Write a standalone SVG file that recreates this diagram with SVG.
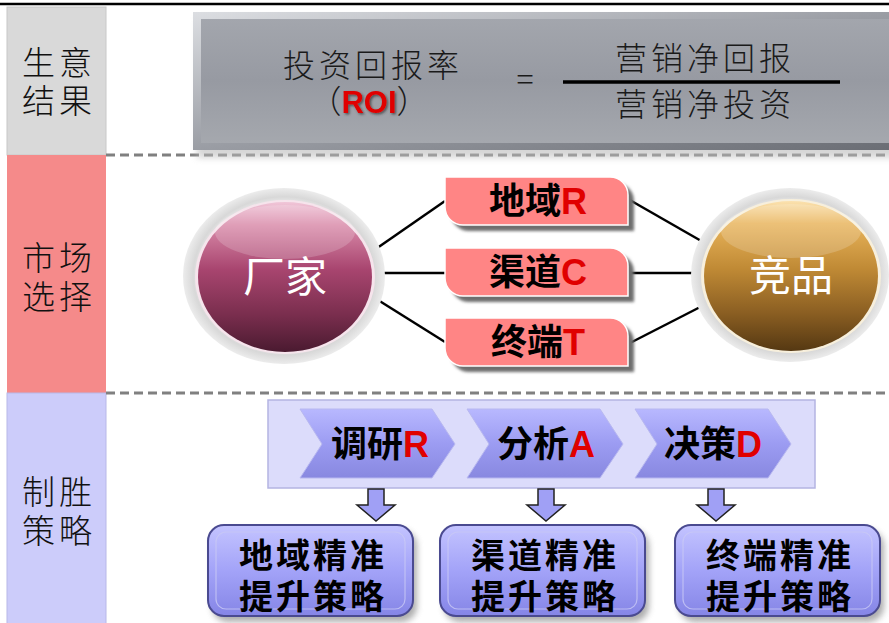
<svg xmlns="http://www.w3.org/2000/svg" width="889" height="623" viewBox="0 0 889 623">
<defs>
<style>
.side{font-family:"Liberation Serif","Noto Sans CJK SC",serif;font-size:33px;fill:#111;font-weight:300}
.formula{font-family:"Noto Sans CJK SC",sans-serif;font-size:32px;fill:#1a1a1a;font-weight:300}
.bold{font-family:"Noto Sans CJK SC",sans-serif;font-weight:bold;fill:#000}
.red{fill:#e00000;font-family:"Liberation Sans","Noto Sans CJK SC",sans-serif;font-weight:bold}
.dash{stroke:#808080;stroke-width:3;stroke-dasharray:9 5;fill:none}
.conn{stroke:#000;stroke-width:2.5;fill:none}
.pink{fill:#ff8585;stroke:#fff;stroke-width:1.5}
.pshadow{fill:#6e6e6e;filter:url(#blur)}
.chev{fill:url(#chevG);stroke:#b8b8f0;stroke-width:1}
.darrow{fill:#a0a0f5;stroke:#222;stroke-width:1.5}
.bbox{fill:url(#boxG);stroke:#4a4a90;stroke-width:2}
.bin{fill:none;stroke:#c8c8f5;stroke-width:1.2;opacity:0.8}
.wtext{font-family:"Noto Sans CJK SC",sans-serif;fill:#fff;font-size:42px}
.btxt{font-family:"Noto Sans CJK SC",sans-serif;font-weight:bold;fill:#000;font-size:34px;letter-spacing:3px}
</style>
<filter id="blur" x="-10%" y="-10%" width="130%" height="140%"><feGaussianBlur stdDeviation="1.5"/></filter>
<filter id="soft" x="-10%" y="-10%" width="130%" height="140%"><feGaussianBlur stdDeviation="3"/></filter>
<filter id="tshadow" x="-10%" y="-10%" width="130%" height="140%"><feDropShadow dx="1.5" dy="1.5" stdDeviation="1" flood-color="#333" flood-opacity="0.7"/></filter>
<linearGradient id="metal" x1="0" y1="0" x2="0" y2="1">
<stop offset="0" stop-color="#a3a6ad"/><stop offset="0.5" stop-color="#979aa2"/><stop offset="1" stop-color="#a5a8ae"/>
</linearGradient>
<linearGradient id="metalEdge" x1="0" y1="0" x2="1" y2="1">
<stop offset="0" stop-color="#dcdee2"/><stop offset="0.5" stop-color="#9a9da4"/><stop offset="1" stop-color="#6a6d74"/>
</linearGradient>
<radialGradient id="halo" cx="0.5" cy="0.5" r="0.5">
<stop offset="0.8" stop-color="#f2f2f2"/><stop offset="0.9" stop-color="#d8d8d8"/><stop offset="1" stop-color="#ececec"/>
</radialGradient>
<linearGradient id="purple" x1="0" y1="0" x2="0" y2="1">
<stop offset="0" stop-color="#f0c6d8"/><stop offset="0.15" stop-color="#d98aa9"/><stop offset="0.45" stop-color="#a8456f"/><stop offset="0.75" stop-color="#7a2e4e"/><stop offset="1" stop-color="#4a1a30"/>
</linearGradient>
<linearGradient id="gold" x1="0" y1="0" x2="0" y2="1">
<stop offset="0" stop-color="#fbe2b0"/><stop offset="0.15" stop-color="#e8b35a"/><stop offset="0.45" stop-color="#c08a35"/><stop offset="0.75" stop-color="#8a5e22"/><stop offset="1" stop-color="#553812"/>
</linearGradient>
<linearGradient id="chevG" x1="0" y1="0" x2="0" y2="1">
<stop offset="0" stop-color="#b8b8ff"/><stop offset="0.5" stop-color="#9c9cf2"/><stop offset="1" stop-color="#8888e0"/>
</linearGradient>
<linearGradient id="boxG" x1="0" y1="0" x2="0" y2="1">
<stop offset="0" stop-color="#c4c4ff"/><stop offset="0.5" stop-color="#a3a3f8"/><stop offset="1" stop-color="#8585e6"/>
</linearGradient>
</defs>
<rect width="889" height="623" fill="#fff"/>
<line x1="0" y1="4" x2="889" y2="4" stroke="#000" stroke-width="2.5"/>

<g id="side-labels">
<rect x="7" y="7" width="99" height="148" fill="#d9d9d9" stroke="#c8c8c8"/>
<rect x="7" y="155" width="99" height="238" fill="#f58a8a"/>
<rect x="7" y="393" width="99" height="232" fill="#ccccfa" stroke="#b8b8e8"/>
<text class="side" letter-spacing="4"><tspan x="22" y="75">生意</tspan><tspan x="22" y="113">结果</tspan></text>
<text class="side" letter-spacing="4"><tspan x="22" y="270">市场</tspan><tspan x="22" y="309">选择</tspan></text>
<text class="side" letter-spacing="4"><tspan x="22" y="504">制胜</tspan><tspan x="22" y="543">策略</tspan></text>
</g>

<line class="dash" x1="106" y1="155" x2="889" y2="155"/>
<line class="dash" x1="106" y1="393" x2="889" y2="393"/>

<g id="roi-formula">
<rect x="197" y="18" width="700" height="140" fill="#bbb" filter="url(#soft)" opacity="0.6"/>
<rect x="193" y="12" width="700" height="138" fill="url(#metalEdge)"/>
<rect x="201" y="19" width="690" height="124" fill="url(#metal)"/>
<text class="formula" text-anchor="middle"><tspan x="373" y="77" letter-spacing="4">投资回报率</tspan><tspan x="369" y="113">（<tspan class="red" font-size="31" filter="url(#tshadow)">ROI</tspan>）</tspan></text>
<text class="formula" x="525" y="91" text-anchor="middle" font-size="34">=</text>
<line x1="563" y1="82" x2="840" y2="82" stroke="#000" stroke-width="3.5"/>
<text class="formula" text-anchor="middle" letter-spacing="4"><tspan x="705" y="70">营销净回报</tspan><tspan x="705" y="116">营销净投资</tspan></text>
</g>

<g id="connectors">
<line class="conn" x1="370" y1="253" x2="445" y2="201"/>
<line class="conn" x1="373" y1="273" x2="445" y2="273"/>
<line class="conn" x1="370" y1="295" x2="445" y2="342"/>
<line class="conn" x1="628" y1="199" x2="710" y2="246"/>
<line class="conn" x1="628" y1="273" x2="705" y2="273"/>
<line class="conn" x1="628" y1="344" x2="710" y2="302"/>
</g>

<g id="node-maker">
<ellipse cx="284" cy="276" rx="101" ry="88" fill="url(#halo)"/>
<ellipse cx="285" cy="277" rx="90" ry="77" fill="#f6e4ec"/>
<ellipse cx="285" cy="277" rx="87" ry="75" fill="url(#purple)"/>
<ellipse cx="285" cy="232" rx="70" ry="27" fill="#fff" opacity="0.18"/>
<text class="wtext" x="285" y="292" text-anchor="middle">厂家</text>
</g>

<g id="node-rival">
<ellipse cx="790" cy="275" rx="99" ry="87" fill="url(#halo)"/>
<ellipse cx="791" cy="276" rx="90" ry="77" fill="#f7efdc"/>
<ellipse cx="791" cy="276" rx="87" ry="75" fill="url(#gold)"/>
<ellipse cx="791" cy="231" rx="70" ry="27" fill="#fff" opacity="0.18"/>
<text class="wtext" x="791" y="291" text-anchor="middle">竞品</text>
</g>

<g id="node-region">
<path class="pshadow" d="M451,183 H616 A18,18 0 0 1 634,201 V231 H469 A18,18 0 0 1 451,213 Z"/>
<path class="pink" d="M445,177 H610 A18,18 0 0 1 628,195 V225 H463 A18,18 0 0 1 445,207 Z"/>
<text class="bold" x="538" y="214" text-anchor="middle" font-size="36">地域<tspan class="red">R</tspan></text>
</g>
<g id="node-channel">
<path class="pshadow" d="M451,254 H616 A18,18 0 0 1 634,272 V302 H469 A18,18 0 0 1 451,284 Z"/>
<path class="pink" d="M445,248 H610 A18,18 0 0 1 628,266 V296 H463 A18,18 0 0 1 445,278 Z"/>
<text class="bold" x="538" y="285" text-anchor="middle" font-size="36">渠道<tspan class="red">C</tspan></text>
</g>
<g id="node-terminal">
<path class="pshadow" d="M451,324 H616 A18,18 0 0 1 634,342 V372 H469 A18,18 0 0 1 451,354 Z"/>
<path class="pink" d="M445,318 H610 A18,18 0 0 1 628,336 V366 H463 A18,18 0 0 1 445,348 Z"/>
<text class="bold" x="538" y="355" text-anchor="middle" font-size="36">终端<tspan class="red">T</tspan></text>
</g>

<g id="process-panel">
<rect x="268" y="400" width="547" height="88" fill="#dcdcfb" stroke="#b4b4e2" stroke-width="1.5"/>
</g>
<g id="step-research">
<polygon class="chev" points="300,409 432,409 455,444 432,478 300,478 322,444"/>
<text class="bold" x="380" y="457" text-anchor="middle" font-size="36">调研<tspan class="red">R</tspan></text>
</g>
<g id="step-analysis">
<polygon class="chev" points="467,409 600,409 623,444 600,478 467,478 489,444"/>
<text class="bold" x="546" y="457" text-anchor="middle" font-size="36">分析<tspan class="red">A</tspan></text>
</g>
<g id="step-decision">
<polygon class="chev" points="635,409 768,409 791,444 768,478 635,478 657,444"/>
<text class="bold" x="713" y="457" text-anchor="middle" font-size="36">决策<tspan class="red">D</tspan></text>
</g>

<g id="down-arrows">
<polygon class="darrow" points="368,489 384,489 384,505 395,505 376,521 357,505 368,505"/>
<polygon class="darrow" points="538,489 554,489 554,505 565,505 546,521 527,505 538,505"/>
<polygon class="darrow" points="708,489 724,489 724,505 735,505 716,521 697,505 708,505"/>
</g>

<g id="strategy-region">
<rect x="212" y="530" width="205" height="92" rx="16" fill="#777" filter="url(#soft)" opacity="0.6"/>
<rect class="bbox" x="208" y="525" width="205" height="91" rx="16"/>
<rect class="bin" x="216" y="532" width="189" height="77" rx="10"/>
<text class="btxt" text-anchor="middle"><tspan x="313" y="568">地域精准</tspan><tspan x="313" y="609">提升策略</tspan></text>
</g>
<g id="strategy-channel">
<rect x="444" y="530" width="205" height="92" rx="16" fill="#777" filter="url(#soft)" opacity="0.6"/>
<rect class="bbox" x="440" y="525" width="205" height="91" rx="16"/>
<rect class="bin" x="448" y="532" width="189" height="77" rx="10"/>
<text class="btxt" text-anchor="middle"><tspan x="545" y="568">渠道精准</tspan><tspan x="545" y="609">提升策略</tspan></text>
</g>
<g id="strategy-terminal">
<rect x="679" y="530" width="205" height="92" rx="16" fill="#777" filter="url(#soft)" opacity="0.6"/>
<rect class="bbox" x="675" y="525" width="205" height="91" rx="16"/>
<rect class="bin" x="683" y="532" width="189" height="77" rx="10"/>
<text class="btxt" text-anchor="middle"><tspan x="780" y="568">终端精准</tspan><tspan x="780" y="609">提升策略</tspan></text>
</g>
</svg>
